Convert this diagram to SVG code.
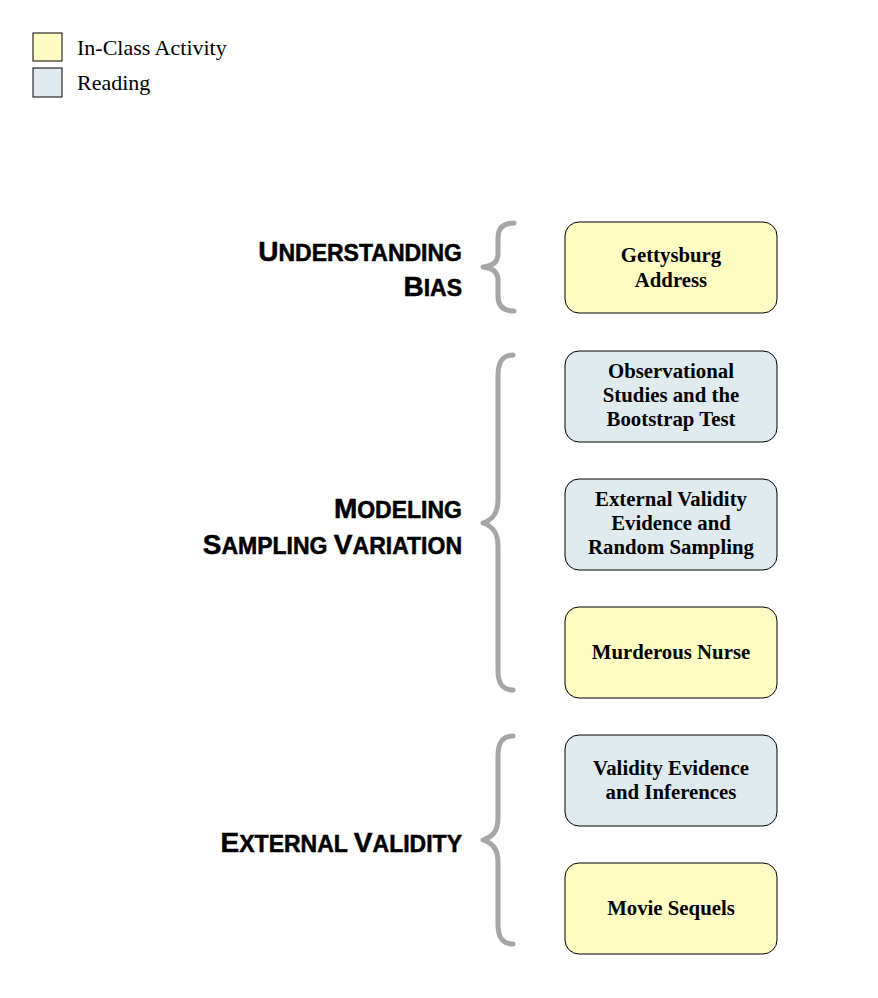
<svg xmlns="http://www.w3.org/2000/svg" width="878" height="998" viewBox="0 0 878 998">
<style>
.act{fill:#FFFDC4;stroke:#000;stroke-width:1}
.read{fill:#DFEBEF;stroke:#000;stroke-width:1}
.bt{font-family:"Liberation Serif",serif;font-weight:bold;font-size:20.8px;text-anchor:middle;fill:#000}
.lg{font-family:"Liberation Serif",serif;font-size:22px;fill:#000}
.hd{font-family:"Liberation Sans",Arial,sans-serif;font-weight:bold;font-size:23px;text-anchor:end;fill:#000;stroke:#000;stroke-width:0.5}
.big{font-size:28px}
.brace{fill:none;stroke:#A6A6A6;stroke-width:5;stroke-linecap:round;stroke-linejoin:round}
</style>
<rect width="878" height="998" fill="#fff"/>
<g id="legend">
<rect class="act" x="33" y="33" width="29" height="28"/>
<text class="lg" x="77" y="55">In-Class Activity</text>
<rect class="read" x="33" y="68" width="29" height="29"/>
<text class="lg" x="77" y="90">Reading</text>
</g>
<g id="headings">
<g id="h-bias"><text class="hd" x="462" y="261"><tspan class="big">U</tspan>NDERSTANDING</text>
<text class="hd" x="462" y="296"><tspan class="big">B</tspan>IAS</text></g>
<g id="h-modeling"><text class="hd" x="462" y="518"><tspan class="big">M</tspan>ODELING</text>
<text class="hd" x="462" y="554"><tspan class="big">S</tspan>AMPLING <tspan class="big">V</tspan>ARIATION</text></g>
<g id="h-external"><text class="hd" x="462" y="852"><tspan class="big">E</tspan>XTERNAL <tspan class="big">V</tspan>ALIDITY</text></g>
</g>
<g id="connectors">
<path class="brace" d="M514,223 C503,223 498,228 498,238 L498,254 C498,262 492,266 483,267 C492,268 498,272 498,280 L498,296 C498,306 503,311 514,311"/>
<path class="brace" d="M513,355 C502,355 498,362 498,376 L498,500 C498,514 492,520 483,523 C492,526 498,532 498,546 L498,670 C498,683 502,690 513,690"/>
<path class="brace" d="M513,736 C502,736 498,743 498,756 L498,818 C498,832 492,837 483,840 C492,843 498,848 498,862 L498,924 C498,937 502,944 513,944"/>
</g>
<g id="n1"><rect class="act" x="565" y="222" width="212" height="91" rx="14"/>
<text class="bt" x="671" y="262">Gettysburg</text><text class="bt" x="671" y="287">Address</text></g>
<g id="n2"><rect class="read" x="565" y="351" width="212" height="91" rx="14"/>
<text class="bt" x="671" y="378">Observational</text><text class="bt" x="671" y="402">Studies and the</text><text class="bt" x="671" y="426">Bootstrap Test</text></g>
<g id="n3"><rect class="read" x="565" y="479" width="212" height="91" rx="14"/>
<text class="bt" x="671" y="506">External Validity</text><text class="bt" x="671" y="530">Evidence and</text><text class="bt" x="671" y="554">Random Sampling</text></g>
<g id="n4"><rect class="act" x="565" y="607" width="212" height="91" rx="14"/>
<text class="bt" x="671" y="659">Murderous Nurse</text></g>
<g id="n5"><rect class="read" x="565" y="735" width="212" height="91" rx="14"/>
<text class="bt" x="671" y="775">Validity Evidence</text><text class="bt" x="671" y="799">and Inferences</text></g>
<g id="n6"><rect class="act" x="565" y="863" width="212" height="91" rx="14"/>
<text class="bt" x="671" y="915">Movie Sequels</text></g>
</svg>
